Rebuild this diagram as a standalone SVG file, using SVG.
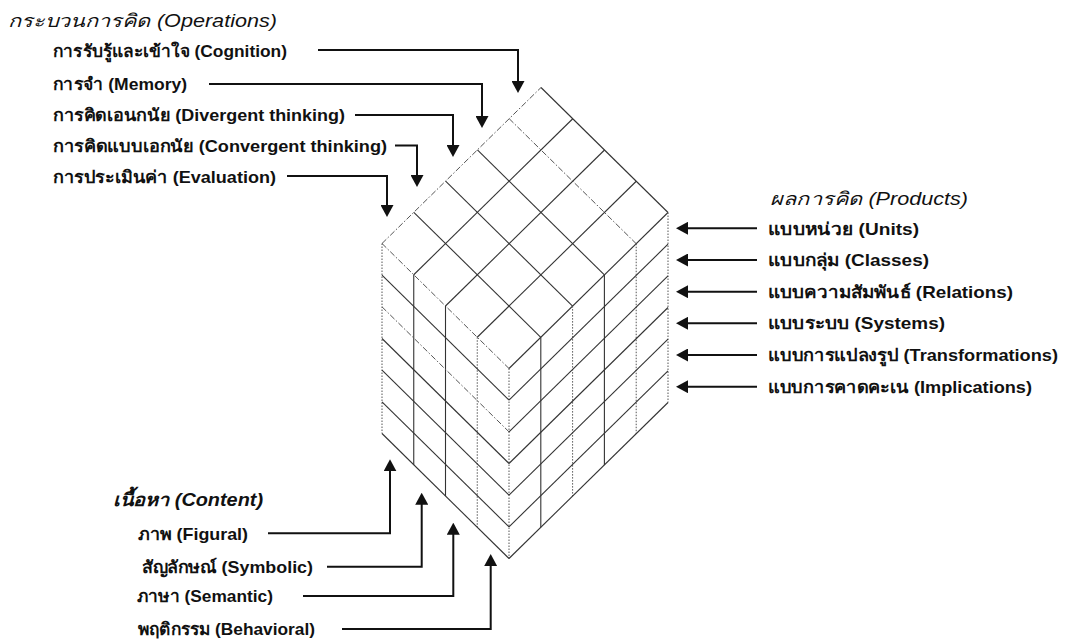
<svg xmlns="http://www.w3.org/2000/svg" width="1070" height="644" viewBox="0 0 1070 644">
<defs>
<marker id="ah" viewBox="0 0 12 13" refX="9" refY="6.5" markerWidth="12" markerHeight="13" markerUnits="userSpaceOnUse" orient="auto">
<path d="M0,0 L12,6.5 L0,13 Z" fill="#111"/>
</marker>
</defs>
<style>
.bg{fill:#fff}
.t{font-family:"Liberation Sans","Noto Sans","DejaVu Sans",sans-serif;font-size:17px;font-weight:bold;fill:#111}
.h{font-family:"Liberation Sans","Noto Sans","DejaVu Sans",sans-serif;font-size:18px;font-style:italic;fill:#111}
.hb{font-weight:bold}
.c{stroke:#333;stroke-width:1.1;fill:none}
.d{stroke:#555;stroke-width:1;stroke-dasharray:1.5 1.5;fill:none}
.dd{stroke:#555;stroke-width:1;stroke-dasharray:6 2 1.5 2;fill:none}
.a{stroke:#111;stroke-width:2;fill:none;marker-end:url(#ah)}
</style>
<rect class="bg" x="0" y="0" width="1070" height="644"/>

<g id="cube">
<path class="dd" d="M382,243.5 L509,368.5"/>
<path class="c" d="M413.8,212.3 L540.8,337.3"/>
<path class="c" d="M445.6,181.1 L572.6,306.1"/>
<path class="c" d="M477.4,149.9 L604.4,274.9"/>
<path class="dd" d="M509.2,118.7 L636.2,243.7"/>
<path class="c" d="M541,87.5 L668,212.5"/>
<path class="dd" d="M382,243.5 L541,87.5"/>
<path class="c" d="M413.75,274.75 L572.75,118.75"/>
<path class="c" d="M445.5,306 L604.5,150"/>
<path class="c" d="M477.25,337.25 L636.25,181.25"/>
<path class="c" d="M509,368.5 L668,212.5"/>
<path class="d" d="M382,243.5 V433.5"/>
<path class="c" d="M413.75,274.75 V464.75"/>
<path class="c" d="M445.5,306 V496"/>
<path class="d" d="M477.25,337.25 V527.25"/>
<path class="d" d="M509,368.5 V558.5"/>
<path class="c" d="M382,275.17 L509,400.17"/>
<path class="dd" d="M382,306.83 L509,431.83"/>
<path class="c" d="M382,338.5 L509,463.5"/>
<path class="c" d="M382,370.17 L509,495.17"/>
<path class="c" d="M382,401.83 L509,526.83"/>
<path class="c" d="M382,433.5 L509,558.5"/>
<path class="c" d="M540.8,337.3 V527.3"/>
<path class="d" d="M572.6,306.1 V496.1"/>
<path class="c" d="M604.4,274.9 V464.9"/>
<path class="d" d="M636.2,243.7 V433.7"/>
<path class="d" d="M668,212.5 V402.5"/>
<path class="c" d="M509,400.17 L668,244.17"/>
<path class="c" d="M509,431.83 L668,275.83"/>
<path class="c" d="M509,463.5 L668,307.5"/>
<path class="c" d="M509,495.17 L668,339.17"/>
<path class="c" d="M509,526.83 L668,370.83"/>
<path class="c" d="M509,558.5 L668,402.5"/>
</g>

<g id="operations">
<text class="h" x="8" y="27" textLength="269" lengthAdjust="spacingAndGlyphs">กระบวนการคิด  (Operations)</text>
<text class="t" x="53" y="56.5" textLength="234" lengthAdjust="spacingAndGlyphs">การรับรู้และเข้าใจ (Cognition)</text>
<text class="t" x="53" y="89.5" textLength="134" lengthAdjust="spacingAndGlyphs">การจำ (Memory)</text>
<text class="t" x="53" y="121" textLength="292" lengthAdjust="spacingAndGlyphs">การคิดเอนกนัย (Divergent thinking)</text>
<text class="t" x="53" y="152" textLength="334" lengthAdjust="spacingAndGlyphs">การคิดแบบเอกนัย (Convergent thinking)</text>
<text class="t" x="53" y="183" textLength="223" lengthAdjust="spacingAndGlyphs">การประเมินค่า (Evaluation)</text>
</g>

<g id="products">
<text class="h" x="770" y="205" textLength="198" lengthAdjust="spacingAndGlyphs">ผลการคิด (Products)</text>
<text class="t" x="768" y="234.5" textLength="151" lengthAdjust="spacingAndGlyphs">แบบหน่วย (Units)</text>
<text class="t" x="768" y="266" textLength="161" lengthAdjust="spacingAndGlyphs">แบบกลุ่ม (Classes)</text>
<text class="t" x="768" y="297.7" textLength="245" lengthAdjust="spacingAndGlyphs">แบบความสัมพันธ์ (Relations)</text>
<text class="t" x="768" y="329.3" textLength="177" lengthAdjust="spacingAndGlyphs">แบบระบบ (Systems)</text>
<text class="t" x="768" y="361" textLength="290" lengthAdjust="spacingAndGlyphs">แบบการแปลงรูป (Transformations)</text>
<text class="t" x="768" y="392.7" textLength="264" lengthAdjust="spacingAndGlyphs">แบบการคาดคะเน (Implications)</text>
</g>

<g id="content">
<text class="h hb" x="113" y="506" textLength="150" lengthAdjust="spacingAndGlyphs">เนื้อหา (Content)</text>
<text class="t" x="138" y="539.5" textLength="110" lengthAdjust="spacingAndGlyphs">ภาพ (Figural)</text>
<text class="t" x="142" y="572.5" textLength="171" lengthAdjust="spacingAndGlyphs">สัญลักษณ์ (Symbolic)</text>
<text class="t" x="137" y="602" textLength="136" lengthAdjust="spacingAndGlyphs">ภาษา (Semantic)</text>
<text class="t" x="138" y="635" textLength="177" lengthAdjust="spacingAndGlyphs">พฤติกรรม (Behavioral)</text>
</g>

<g id="connectors">
<path class="a" d="M318,50 H518 V90"/>
<path class="a" d="M209,84 H482 V125"/>
<path class="a" d="M355,115 H453 V154"/>
<path class="a" d="M395,145.5 H417 V184"/>
<path class="a" d="M287,176 H387 V214"/>
<path class="a" d="M757,228.3 H679"/>
<path class="a" d="M757,260 H679"/>
<path class="a" d="M757,291.7 H679"/>
<path class="a" d="M757,323.3 H679"/>
<path class="a" d="M757,355 H679"/>
<path class="a" d="M757,386.7 H679"/>
<path class="a" d="M268,533.3 H390 V462.3"/>
<path class="a" d="M327,566.7 H421.7 V495.7"/>
<path class="a" d="M303,596 H453.3 V525.7"/>
<path class="a" d="M342,629 H490.7 V557"/>
</g>
</svg>
